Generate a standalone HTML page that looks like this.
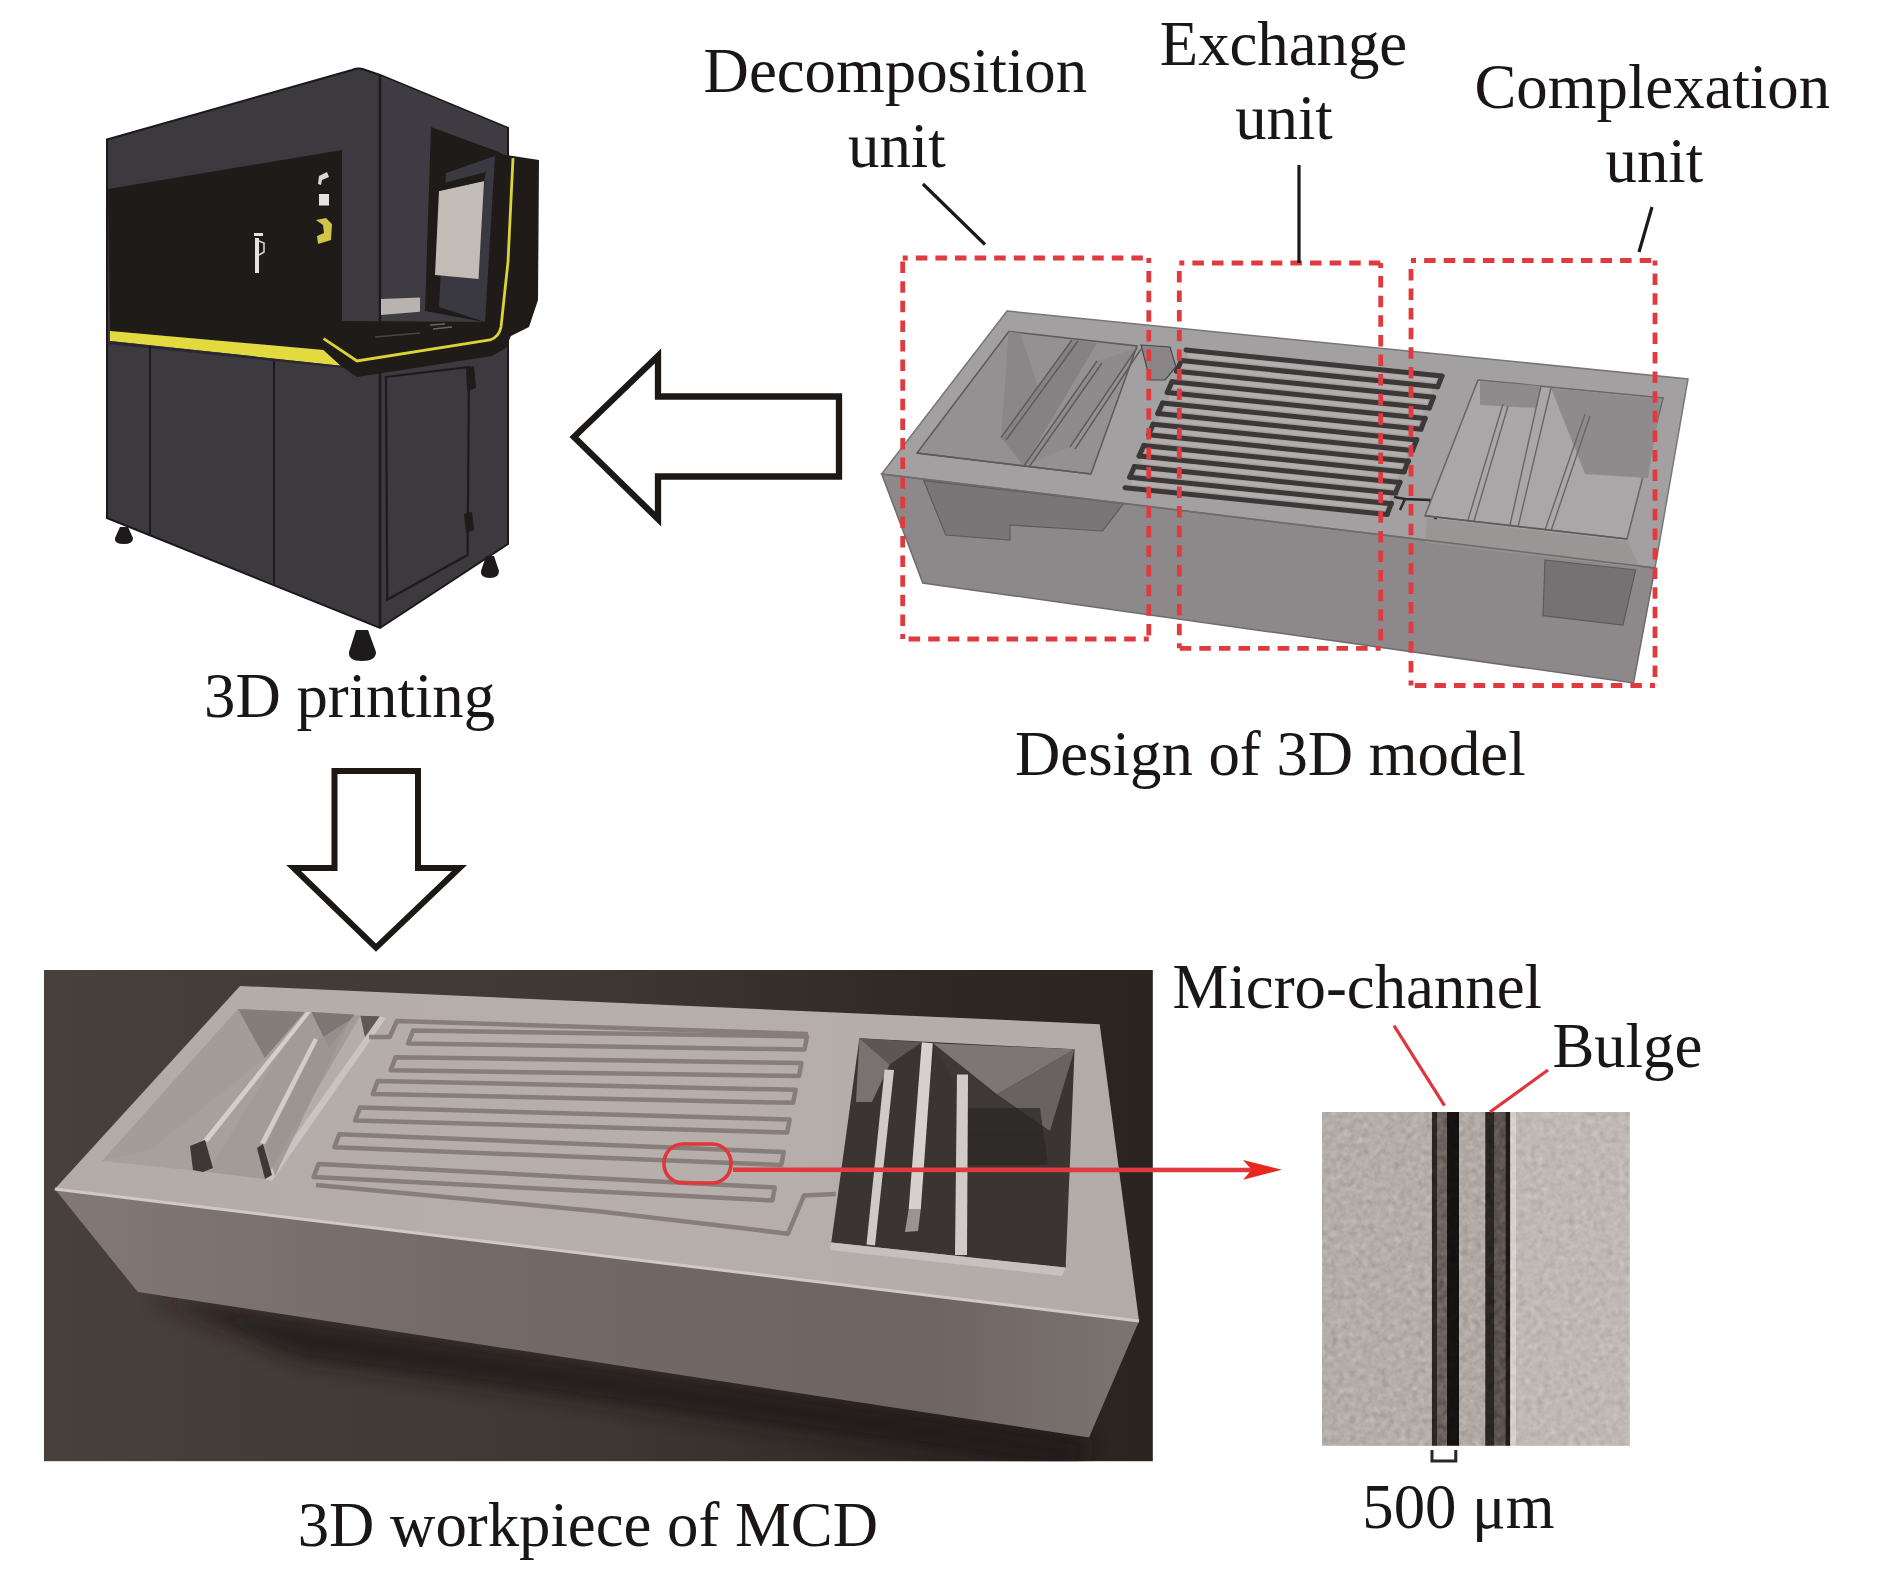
<!DOCTYPE html>
<html><head><meta charset="utf-8"><title>MCD figure</title>
<style>
html,body{margin:0;padding:0;background:#fff;width:1890px;height:1569px;overflow:hidden}
svg{display:block}
text{font-family:"Liberation Serif",serif;fill:#1a1616}
</style></head><body>
<svg width="1890" height="1569" viewBox="0 0 1890 1569">
<defs>
</defs>
<rect x="0" y="0" width="1890" height="1569" fill="#fff"/>

<!-- PRINTER -->
<g id="printer">
<!-- silhouette / body -->
<path d="M107,139.5 L352,70 Q358,67.5 364,69.5 L380,75 L508,128 L508,544 L380,628 L107,518 Z" fill="#3d3a3f" stroke="#1a1818" stroke-width="2"/>
<!-- side face upper slightly different tone -->
<path d="M381,76 L507,128 L507,334 L381,340 Z" fill="#3e3b42"/>
<!-- vertical edge -->
<line x1="380" y1="75" x2="380" y2="628" stroke="#1c1a1c" stroke-width="2.5"/>
<!-- black front panel -->
<path d="M108,189 L342,150 L342,321 L322,337 L323.6,350 L110,331 Z" fill="#1f1b19"/>
<!-- side opening black frame -->
<path d="M431,127 L499,152 L505,156 L505,336 L484,322 L425,311 Z" fill="#1f1b19"/>
<!-- inner panel (door) -->
<path d="M446,173 L495,156 L485,322 L439,307 Z" fill="#3a3942"/>
<!-- screen -->
<path d="M439,191 L484,181 L478.5,279 L435,275 Z" fill="#c2bcb7"/>
<path d="M436,185 L486,172 L484,181 L439,191 Z" fill="#1f1b19"/>
<!-- build plate -->
<path d="M381,299 L420,297.5 L420,311.7 L381,315 Z" fill="#b8b3af"/>
<!-- right side black panel -->
<path d="M500,154 L539,160 L538,300 L529,327 L511,336 L500,336 Z" fill="#1f1b19"/>
<!-- yellow strip front -->
<path d="M110,331 L323.6,350 L341,365.7 L110,341 Z" fill="#e2da3e"/>
<path d="M110,341 L341,365.7 L343,368 L107,344 Z" fill="#2a2838"/>
<!-- console slab -->
<path d="M322,337 L342,321 L492,322 L512.5,332 L506,348 L492,356 L357,377 L341,366 L323.6,350 Z" fill="#1f1b19"/>
<!-- yellow line on console -->
<path d="M323.6,338.7 L357,361 L490,340 Q499,337 501,327 L508,262 L513,158" fill="none" stroke="#dcd436" stroke-width="2.8"/>
<!-- console details -->
<path d="M375,337 L420,333" stroke="#4a4646" stroke-width="1.5"/>
<path d="M430,325 L445,324 M433,329 L452,327" stroke="#6a6666" stroke-width="1.5"/>
<!-- lower cabinet panel lines -->
<line x1="150" y1="346" x2="150" y2="536" stroke="#1c1a1c" stroke-width="2"/>
<line x1="274" y1="361" x2="274" y2="586" stroke="#1c1a1c" stroke-width="2"/>
<!-- door on side -->
<path d="M386,377 L469,367 L467.6,555 L387.3,599.7 Z" fill="none" stroke="#1c1a1c" stroke-width="2.2"/>
<path d="M466,368 L474,366 L476,388 L467,391 Z" fill="#1f1b19"/>
<path d="M464,514 L472,512 L474,530 L466,533 Z" fill="#1f1b19"/>
<!-- white icons -->
<path d="M255,238 L259,238 L259,273 L255,273 Z" fill="#e6e2de"/>
<path d="M254,233 L263,233 L263,236 L254,236 Z" fill="#e6e2de"/>
<path d="M259,241 L264,243 L264,252 L259,255" fill="none" stroke="#d6d2ce" stroke-width="1.6"/>
<path d="M319,176 L327,172 L329,177 L322,180 L321,185 L318,184 Z" fill="#dcd8d4"/>
<path d="M319,194 L329,194 L329,205.5 L319,205.5 Z" fill="#e6e2de"/>
<path d="M316,220 L326,218 L332,224 L331,240 L318,244 L317,236 L324,233 L323,225 Z" fill="#cfc54a"/>
<!-- feet -->
<path d="M120,527 L128,527 L133,538 Q133,544 124,544 Q114,544 115,538 Z" fill="#1c1a1a"/>
<path d="M486,556 L494,556 L499,571 Q499,578 490,578 Q480,578 481,571 Z" fill="#1c1a1a"/>
<path d="M356,630 L368,630 L376,652 Q376,661 362,661 Q348,661 349,652 Z" fill="#1c1a1a"/>
</g>

<!-- LEFT ARROW -->
<path d="M574,437 L658,356 L658,396.5 L839,396.5 L839,476.5 L658,476.5 L658,519 Z" fill="#fff" stroke="#1c1816" stroke-width="6.3" stroke-linejoin="miter"/>

<!-- DOWN ARROW -->
<path d="M334.5,771 L418,771 L418,868 L459.5,868 L376,947.6 L293.6,868 L334.5,868 Z" fill="#fff" stroke="#1c1816" stroke-width="6" stroke-linejoin="miter"/>

<!-- 3D MODEL -->
<g id="model">
<!-- front face -->
<path d="M881.7,474 L1655,568 L1633.5,683 L922.8,583 Z" fill="#8d898a" stroke="#6f6b6c" stroke-width="1.5"/>
<!-- top face -->
<path d="M1007,311 L1688,379 L1655,568 L881.7,474 Z" fill="#a3a0a1" stroke="#7a7677" stroke-width="1.5"/>
<!-- decomposition cavity -->
<path d="M1008.8,331.5 L1137,346 L1091,474 L917,453 Z" fill="#959192" stroke="#5e5a5b" stroke-width="1.6"/>
<path d="M1008.8,331.5 L1020,333 L1040,392 L1001,437.7 Z" fill="#8b8788"/>
<path d="M1072,340 L1097,343 L1024,466 L1001,437.7 Z" fill="#868283"/>
<path d="M1097,361 L1137,348 L1070,447 L1024,466 Z" fill="#8f8b8c"/>
<path d="M1072,340 L1001,437.7 M1078,341 L1006,440 M1097,361 L1024,466 M1102,363 L1029,467 M1137,348 L1070,447 M1141,349 L1075,449" stroke="#5e5a5b" stroke-width="1.4" fill="none"/>
<!-- decomposition cavity seen through front face -->
<path d="M923.8,480.7 L1123.6,503.6 L1102.5,531 L1010,525 L1010,540 L945.7,535 Z" fill="#7a7677" stroke="#5e5a5b" stroke-width="1.2"/>
<path d="M917,453 L1091,474" stroke="#5e5a5b" stroke-width="1.6"/>
<!-- inlet channel area -->
<path d="M1141,345 L1170,347 L1176,367 L1165,380 L1150,380 Z" fill="#8a8687" stroke="#4a4647" stroke-width="1.2"/>
<!-- serpentine -->
<g stroke="#3c3838" stroke-width="5" fill="none" stroke-linecap="round">
<path d="M1186.0,350.0 L1442.0,376.0" />
<path d="M1181.3,360.6 L1437.8,386.7" />
<path d="M1176.6,371.2 L1433.6,397.3" />
<path d="M1171.9,381.8 L1429.4,408.0" />
<path d="M1167.2,392.4 L1425.2,418.6" />
<path d="M1162.5,403.0 L1421.0,429.3" />
<path d="M1157.8,413.6 L1416.8,439.9" />
<path d="M1153.1,424.2 L1412.6,450.6" />
<path d="M1148.5,434.8 L1408.4,461.2" />
<path d="M1143.8,445.4 L1404.2,471.9" />
<path d="M1139.1,456.0 L1400.0,482.5" />
<path d="M1134.4,466.6 L1395.7,493.2" />
<path d="M1129.7,477.2 L1391.5,503.8" />
<path d="M1125.0,487.8 L1387.3,514.5" />
<path d="M1442.0,376.0 L1437.8,386.6" />
<path d="M1181.3,360.6 L1176.6,371.2" />
<path d="M1433.6,397.2 L1429.4,407.8" />
<path d="M1171.9,381.8 L1167.2,392.4" />
<path d="M1425.2,418.4 L1421.0,429.0" />
<path d="M1162.5,403.0 L1157.8,413.6" />
<path d="M1416.8,439.6 L1412.6,450.2" />
<path d="M1153.1,424.2 L1148.5,434.8" />
<path d="M1408.4,460.8 L1404.2,471.4" />
<path d="M1143.8,445.4 L1139.1,456.0" />
<path d="M1400.0,482.0 L1395.7,492.6" />
<path d="M1134.4,466.6 L1129.7,477.2" />
<path d="M1391.5,503.2 L1387.3,513.8" />
</g>
<g stroke="#b2aeae" stroke-width="4" fill="none">
<path d="M1187.7,355.3 L1435.9,380.5" />
<path d="M1183.0,365.9 L1431.7,391.2" />
<path d="M1178.3,376.5 L1427.5,401.8" />
<path d="M1173.6,387.1 L1423.3,412.5" />
<path d="M1168.9,397.7 L1419.1,423.1" />
<path d="M1164.2,408.3 L1414.9,433.8" />
<path d="M1159.5,418.9 L1410.7,444.4" />
<path d="M1154.8,429.5 L1406.5,455.1" />
<path d="M1150.1,440.1 L1402.3,465.7" />
<path d="M1145.4,450.7 L1398.1,476.4" />
<path d="M1140.7,461.3 L1393.8,487.0" />
<path d="M1136.0,471.9 L1389.6,497.7" />
<path d="M1131.3,482.5 L1385.4,508.3" />
</g>
<path d="M1394,497 L1405,499 L1400,510 M1405,499 L1430,500 L1436,520" stroke="#2c2829" stroke-width="2.5" fill="none"/>
<!-- complexation cavity -->
<path d="M1478,380 L1663,398 L1627,539 L1425,515.7 Z" fill="#aaa7a8" stroke="#6a6667" stroke-width="1.6"/>
<path d="M1480,381 L1541,386 L1537,408 L1480,405 Z" fill="#8f8b8c"/>
<path d="M1551,388 L1661,399 L1648,478 L1585,474 Z" fill="#8f8b8c"/>
<path d="M1541,386 L1510,525 M1551,388 L1518,527 M1503,404 L1468,520 M1508,406 L1474,521 M1585,414 L1545,530 M1590,416 L1551,531" stroke="#6a6667" stroke-width="1.4" fill="none"/>
<path d="M1425,515.7 L1627,539" stroke="#5e5a5b" stroke-width="1.4"/>
<path d="M1427,518 L1627,541 L1640,568 L1425,543 Z" fill="#979394" opacity="0.8"/>
<!-- dark rect on front face right -->
<path d="M1545,560 L1635.6,570 L1623,625 L1543,615.6 Z" fill="#767172" stroke="#5e5a5b" stroke-width="1.2"/>
<path d="M881.7,474 L1655,568" stroke="#6f6b6c" stroke-width="1.5"/>
</g>

<g fill="none" stroke="#e03a3f" stroke-width="4.8" stroke-dasharray="11.5 8.1" stroke-dashoffset="6.5" stroke-linecap="butt">
<path d="M902.7,258.0 L1148.8,258.0"/>
<path d="M1148.8,258.0 L1148.8,639.0"/>
<path d="M1148.8,639.0 L902.7,639.0"/>
<path d="M902.7,639.0 L902.7,258.0"/>
<path d="M1179.3,263.0 L1380.7,263.0"/>
<path d="M1380.7,263.0 L1380.7,648.3"/>
<path d="M1380.7,648.3 L1179.3,648.3"/>
<path d="M1179.3,648.3 L1179.3,263.0"/>
<path d="M1411.0,260.5 L1655.0,260.5"/>
<path d="M1655.0,260.5 L1655.0,685.5"/>
<path d="M1655.0,685.5 L1411.0,685.5"/>
<path d="M1411.0,685.5 L1411.0,260.5"/>
</g>
<!-- PHOTO -->
<g id="photo" clip-path="url(#photoClip)">
<defs>
<clipPath id="photoClip"><rect x="43.8" y="970" width="1109.1" height="491.4"/></clipPath>
<linearGradient id="bgG" x1="0" y1="0" x2="1" y2="0">
<stop offset="0" stop-color="#48403a"/>
<stop offset="0.5" stop-color="#3e3732"/>
<stop offset="0.8" stop-color="#2f2925"/>
<stop offset="1" stop-color="#29241f"/>
</linearGradient>
<linearGradient id="bgTop" x1="0" y1="0" x2="0" y2="1">
<stop offset="0" stop-color="#1e1a18" stop-opacity="0"/>
<stop offset="1" stop-color="#1e1a18" stop-opacity="0"/>
</linearGradient>
<linearGradient id="topG" x1="0" y1="0" x2="1" y2="0">
<stop offset="0" stop-color="#b3aba7"/>
<stop offset="0.55" stop-color="#b7afab"/>
<stop offset="1" stop-color="#b3aba7"/>
</linearGradient>
<linearGradient id="frontG" x1="0" y1="0" x2="1" y2="0">
<stop offset="0" stop-color="#827975"/>
<stop offset="0.4" stop-color="#736a66"/>
<stop offset="0.8" stop-color="#6e6561"/>
<stop offset="1" stop-color="#7c7470"/>
</linearGradient>
<linearGradient id="shadowG" x1="0" y1="0" x2="0" y2="1">
<stop offset="0" stop-color="#1e1a18"/>
<stop offset="1" stop-color="#3a3431" stop-opacity="0"/>
</linearGradient>
</defs>
<rect x="43.8" y="970" width="1109.1" height="491.4" fill="url(#bgG)"/>
<!-- shadow under workpiece -->
<filter id="blurS" x="-10%" y="-50%" width="120%" height="200%"><feGaussianBlur stdDeviation="10"/></filter>
<path d="M150,1296 L1089,1440 L1080,1470 L300,1360 Z" fill="#1a1614" opacity="0.75" filter="url(#blurS)"/>
<!-- front face -->
<path d="M54.8,1189 L1139,1321 L1089,1437.4 L137.8,1292 Z" fill="url(#frontG)"/>
<!-- top face -->
<path d="M240,986 L1099.7,1024.2 L1139,1321 L54.8,1189 Z" fill="url(#topG)"/>
<!-- rim highlight front edge -->
<path d="M54.8,1189 L1139,1321" stroke="#cfcac7" stroke-width="3" fill="none"/>
<!-- decomposition cavities -->
<path d="M238,1009 L304.7,1012 L207.8,1172 L102.2,1161 Z" fill="#a7a09d"/>
<path d="M238,1009 L304.7,1012 L264.8,1058 Z" fill="#847d7a"/>
<path d="M238,1009 L264.8,1058 L150,1150 L102.2,1161 Z" fill="#a19a97" opacity="0.7"/>
<path d="M304.7,1012 L360.4,1015.7 L264.8,1179 L207.8,1172 Z" fill="#a29b98"/>
<path d="M311.4,1012 L354.4,1014.5 L329,1048.4 Z" fill="#7d7673"/>
<path d="M360.4,1015.7 L379.8,1016.3 L365.3,1038.8 Z" fill="#5f5855"/>
<path d="M379.8,1016.3 L264.8,1179 L272,1181 L386,1018 Z" fill="#c9c4c1"/>
<path d="M306,1012 L311,1012 L208,1142 L203,1140 Z" fill="#d4cfcc"/>
<path d="M190,1146 L205,1140 L213,1168 L203,1172 L193,1170 Z" fill="#3e3735"/>
<path d="M314,1038 L318,1040 L265,1144 L260,1143 Z" fill="#d2cdca"/>
<path d="M257,1148 L263,1144 L272,1175 L265,1179 Z" fill="#3e3735"/>
<path d="M318,1040 L350,1020 L275,1176 L266,1146 Z" fill="#9b9491" opacity="0.8"/>
<!-- serpentine loops (groove) -->
<path d="M413.0,1030.5 L807.0,1036.5 L804.5,1049.5 L408.0,1043.5 Z M395.6,1057.2 L801.5,1063.1 L799.0,1076.1 L390.6,1070.2 Z M377.8,1080.9 L795.6,1089.8 L793.1,1102.8 L372.8,1093.9 Z M360.0,1107.5 L789.6,1119.5 L787.1,1132.5 L355.0,1120.5 Z M339.3,1134.2 L783.7,1152.0 L781.2,1165.0 L334.3,1147.2 Z M318.6,1163.9 L774.8,1187.5 L772.3,1200.5 L313.6,1176.9 Z" fill="none" stroke="#877d7a" stroke-width="4.5" stroke-linejoin="round"/>
<path d="M369,1037 L389.6,1037 L397,1021 L808,1034 M600,1211.4 L788,1233.7 L804,1195.5 L835.8,1194 M316,1185 L600,1211.4" fill="none" stroke="#877d7a" stroke-width="4.5" stroke-linejoin="round"/>
<!-- complexation opening -->
<path d="M859.4,1038.3 L1074.6,1049.3 L1065.6,1267.5 L831.3,1242.4 Z" fill="#3a3432"/>
<path d="M859.4,1038.3 L921.8,1042.3 L889.6,1064.4 Z" fill="#5e5654"/>
<path d="M859.4,1038.3 L889.6,1064.4 L872,1102 L856,1102 Z" fill="#7a7270"/>
<path d="M932.8,1043.3 L1074.6,1049.3 L997,1094.6 Z" fill="#7e7674"/>
<path d="M1074.6,1049.3 L1050,1131 L997,1094.6 Z" fill="#6a6260"/>
<path d="M932.8,1043.3 L997,1094.6 L1050,1131 L968,1133 L965,1100 Z" fill="#3e3836"/>
<path d="M968,1133 L1050,1131 L1065.6,1267.5 L966,1257 Z" fill="#3a3533"/>
<path d="M968,1108 L1040,1108 L1048,1165 L968,1165 Z" fill="#2a2624" opacity="0.7"/>
<!-- white walls/fins -->
<path d="M884.6,1069.4 L894,1070 L875,1245.4 L866.5,1244.4 Z" fill="#cfcac7"/>
<path d="M921.8,1042.3 L932.8,1043.3 L920.8,1209 L908.7,1209 Z" fill="#d6d1ce"/>
<path d="M908.7,1209 L920.8,1209 L918,1231 L905,1232 Z" fill="#9a9390"/>
<path d="M957,1074.5 L968,1074.5 L967,1255 L955,1255 Z" fill="#d0cbc8"/>
<path d="M831.3,1242.4 L1065.6,1267.5 L1062,1276 L830,1250 Z" fill="#c6c1be"/>
<!-- red ellipse and arrow -->
<rect x="664" y="1144" width="67" height="39" rx="19" ry="19" fill="none" stroke="#e0353a" stroke-width="3.6"/>
</g>

<path d="M733,1169.8 L1252,1170" stroke="#e03a3e" stroke-width="4.6" fill="none"/>
<path d="M1282,1169.7 L1243,1160 L1251.7,1169.7 L1243,1179.8 Z" fill="#e8281f"/>
<!-- MICRO -->
<g id="micro">
<defs>
<linearGradient id="microG" x1="0" y1="0" x2="1" y2="0">
<stop offset="0" stop-color="#b6b1ad"/>
<stop offset="0.34" stop-color="#b8b3af"/>
<stop offset="0.37" stop-color="#7a7470"/>
<stop offset="0.44" stop-color="#2a2422"/>
<stop offset="0.445" stop-color="#0e0b0a"/>
<stop offset="0.485" stop-color="#151110"/>
<stop offset="0.49" stop-color="#b5afab"/>
<stop offset="0.55" stop-color="#c0bab6"/>
<stop offset="0.56" stop-color="#1a1614"/>
<stop offset="0.60" stop-color="#3a3532"/>
<stop offset="0.62" stop-color="#4a4542"/>
<stop offset="0.635" stop-color="#d0cbc7"/>
<stop offset="0.7" stop-color="#c4bfbb"/>
<stop offset="1" stop-color="#c0bbb7"/>
</linearGradient>
<filter id="noiseF" x="0" y="0" width="100%" height="100%" color-interpolation-filters="sRGB">
<feTurbulence type="fractalNoise" baseFrequency="0.16" numOctaves="2" seed="7" result="n"/>
<feColorMatrix in="n" type="matrix" values="0.33 0.33 0.33 0 0  0.33 0.33 0.33 0 0  0.33 0.33 0.33 0 0  0 0 0 0 1" result="g"/>
<feComponentTransfer in="g" result="c"><feFuncR type="linear" slope="2.2" intercept="-0.6"/><feFuncG type="linear" slope="2.2" intercept="-0.6"/><feFuncB type="linear" slope="2.2" intercept="-0.6"/></feComponentTransfer>
<feComposite in="c" in2="SourceAlpha" operator="in"/>
</filter>
</defs>
<rect x="1322" y="1112" width="109.9" height="333.8" fill="#b4ada9"/>
<rect x="1431.9" y="1112" width="5.1" height="333.8" fill="#2c2623"/>
<rect x="1437" y="1112" width="9.7" height="333.8" fill="#6a625e"/>
<rect x="1446.7" y="1112" width="12.6" height="333.8" fill="#161210"/>
<rect x="1459.3" y="1112" width="25.9" height="333.8" fill="#b1a9a4"/>
<rect x="1485.2" y="1112" width="9.6" height="333.8" fill="#2a2522"/>
<rect x="1494.8" y="1112" width="10.4" height="333.8" fill="#5c5450"/>
<rect x="1505.2" y="1112" width="5.2" height="333.8" fill="#1f1b19"/>
<rect x="1510.4" y="1112" width="5.2" height="333.8" fill="#d6d0cc"/>
<rect x="1515.6" y="1112" width="114.2" height="333.8" fill="#bfb8b5"/>
<rect x="1322" y="1112" width="307.8" height="333.8" fill="#888" filter="url(#noiseF)" opacity="0.22" style="mix-blend-mode:overlay"/>

<!-- scale bracket -->
<path d="M1432,1450 L1432,1461 L1455.8,1461 L1455.8,1450" fill="none" stroke="#2a2624" stroke-width="3"/>
<!-- red leader lines -->
<line x1="1394" y1="1025.6" x2="1444.5" y2="1105.6" stroke="#e0353a" stroke-width="3.2"/>
<line x1="1548" y1="1070" x2="1490" y2="1112" stroke="#e0353a" stroke-width="3.2"/>
</g>

<!-- TEXT -->
<g id="labels" font-size="62.75">
<text x="703.6" y="92">Decomposition</text>
<text x="848.0" y="167">unit</text>
<text x="1159.8" y="65">Exchange</text>
<text x="1235.2" y="139">unit</text>
<text x="1474.5" y="108">Complexation</text>
<text x="1605.5" y="182">unit</text>
<text x="204.0" y="717">3D printing</text>
<text x="1015.0" y="775">Design of 3D model</text>
<text x="297.7" y="1546">3D workpiece of MCD</text>
<text x="1172.6" y="1008">Micro-channel</text>
<text x="1552.4" y="1067">Bulge</text>
<text x="1362.3" y="1528">500 μm</text>
</g>
<!-- leader lines -->
<line x1="923" y1="184" x2="985" y2="244.5" stroke="#1c1816" stroke-width="3.2"/>
<line x1="1299" y1="165" x2="1299" y2="263" stroke="#1c1816" stroke-width="3.2"/>
<line x1="1652" y1="207" x2="1639" y2="252" stroke="#1c1816" stroke-width="3.2"/>
</svg>
</body></html>
